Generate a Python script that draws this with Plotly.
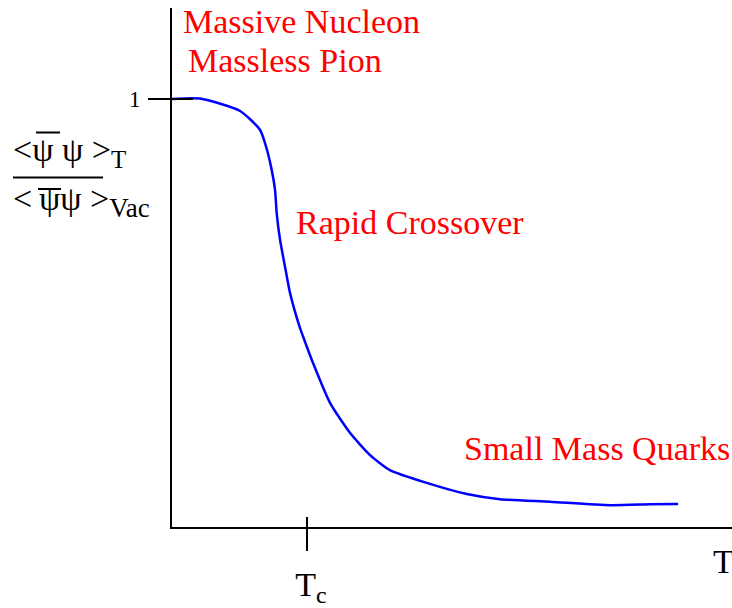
import plotly.graph_objects as go

# ---- data ----
T_over_Tc = [0, 0.208, 0.505, 0.653, 0.698, 0.735, 0.765, 0.777, 0.802, 0.839, 0.876,
             0.950, 0.973, 1.047, 1.173, 1.321, 1.470, 1.618, 1.891, 2.188, 2.435,
             2.806, 3.252, 3.549, 3.757]
condensate_ratio = [1.0, 1.001, 0.972, 0.928, 0.889, 0.842, 0.787, 0.734, 0.671, 0.608,
                    0.547, 0.465, 0.445, 0.383, 0.290, 0.220, 0.168, 0.133, 0.103, 0.077,
                    0.065, 0.059, 0.051, 0.053, 0.054]
x_tick_vals = [1]
x_tick_text = ["\u00a0T<sub>c</sub>"]
y_tick_vals = [1]
y_tick_text = ["1"]
region_labels = ["Massive Nucleon", "Massless Pion", "Rapid Crossover", "Small Mass Quarks"]

# ---- layout geometry ----
W, H = 732, 608
ML, MR, MT, MB = 172, 0, 8, 81
X_RANGE = [0, 4.157]
Y_RANGE = [0, 1.2126]
SERIF = "Liberation Serif, Times New Roman, serif"


def px_to_paper(px, py):
    return (px - ML) / (W - ML - MR), (H - MB - py) / (H - MB - MT)


fig = go.Figure()
fig.add_trace(go.Scatter(
    x=T_over_Tc, y=condensate_ratio, mode="lines",
    line=dict(color="#0000ff", width=2.5, shape="spline", smoothing=0.6),
    showlegend=False, hoverinfo="skip"))
# helper trace so the overlay axes (inner half of the ticks) are drawn
fig.add_trace(go.Scatter(x=[None], y=[None], xaxis="x2", yaxis="y2",
                         showlegend=False, hoverinfo="skip"))

axis_common = dict(showgrid=False, zeroline=False, tickwidth=2, tickcolor="black")
fig.update_layout(
    width=W, height=H,
    margin=dict(l=ML, r=MR, t=MT, b=MB, pad=0),
    paper_bgcolor="white", plot_bgcolor="white",
    font=dict(family=SERIF, color="black"),
    xaxis=dict(range=X_RANGE, showline=True, linecolor="black", linewidth=2,
               tickmode="array", tickvals=x_tick_vals, ticktext=x_tick_text,
               ticks="outside", ticklen=22, ticklabelstandoff=4,
               tickfont=dict(family=SERIF, size=34, color="black"), **axis_common),
    yaxis=dict(range=Y_RANGE, showline=True, linecolor="black", linewidth=2,
               tickmode="array", tickvals=y_tick_vals, ticktext=y_tick_text,
               ticks="outside", ticklen=22, ticklabelstandoff=3,
               tickfont=dict(family=SERIF, size=23, color="black"), **axis_common),
    xaxis2=dict(range=X_RANGE, overlaying="x", anchor="y", side="bottom",
                tickmode="array", tickvals=x_tick_vals, ticks="inside", ticklen=10,
                showticklabels=False, showline=False, **axis_common),
    yaxis2=dict(range=Y_RANGE, overlaying="y", anchor="x", side="left",
                tickmode="array", tickvals=y_tick_vals, ticks="inside", ticklen=21,
                showticklabels=False, showline=False, **axis_common),
)

red_font = dict(family=SERIF, size=34, color="#ff0000")
label_pos = [(181, 21), (186, 60), (294, 222.5), (462, 448)]
for text, (px, py) in zip(region_labels, label_pos):
    xp, yp = px_to_paper(px, py)
    fig.add_annotation(x=xp, y=yp, xref="paper", yref="paper", text=text,
                       showarrow=False, xanchor="left", yanchor="middle", font=red_font)

# x-axis title "T"
xp, yp = px_to_paper(711, 561)
fig.add_annotation(x=xp, y=yp, xref="paper", yref="paper", text="T", showarrow=False,
                   xanchor="left", yanchor="middle",
                   font=dict(family=SERIF, size=34, color="black"))

# y-axis title as a fraction
frac_font = dict(family=SERIF, size=34, color="black")
xp, yp = px_to_paper(11, 152)
fig.add_annotation(x=xp, y=yp, xref="paper", yref="paper",
                   text="<\u03c8 \u03c8 ><sub><span style='font-size:25px'>T</span></sub>",
                   showarrow=False, xanchor="left", yanchor="middle", font=frac_font)
xp, yp = px_to_paper(11, 202)
fig.add_annotation(x=xp, y=yp, xref="paper", yref="paper",
                   text="<\u2009\u03c8\u03c8 ><sub><span style='font-size:27px'>Vac</span></sub>",
                   showarrow=False, xanchor="left", yanchor="middle", font=frac_font)
# fraction bar and the two over-bars of psi-bar
for (xa, xb, yy) in [(13, 103, 177.5), (36, 60, 132.5), (38, 61, 189)]:
    x0, y0 = px_to_paper(xa, yy)
    x1, _ = px_to_paper(xb, yy)
    fig.add_shape(type="line", xref="paper", yref="paper", x0=x0, x1=x1, y0=y0, y1=y0,
                  line=dict(color="black", width=2))

fig.write_html("out.html",
               config={"displayModeBar": False, "staticPlot": True},
               post_script="document.body.style.margin='0';"
                           "document.documentElement.style.overflow='hidden';")
